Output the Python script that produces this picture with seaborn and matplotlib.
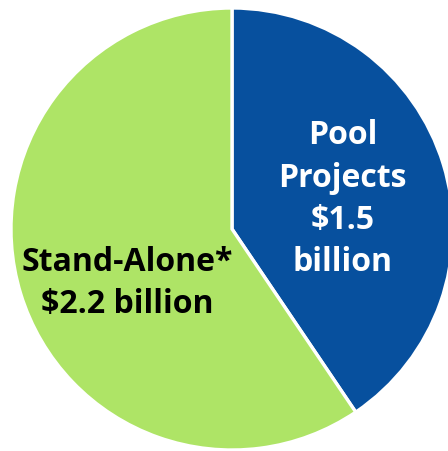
import matplotlib
matplotlib.use("Agg")
import matplotlib.pyplot as plt
import seaborn as sns

# funding split (billions)
segments = ["Pool Projects", "Stand-Alone*"]
amounts = [1.5, 2.2]
labels = ["Pool\nProjects\n$1.5\nbillion", "Stand-Alone*\n$2.2 billion"]
colors = ["#07509E", "#AEE466"]
text_colors = ["white", "black"]
label_pos = [(0.50, 0.135), (-0.475, -0.245)]

sns.set_theme(style="white")
plt.rcParams["font.family"] = ["Open Sans", "DejaVu Sans"]

fig = plt.figure(figsize=(4.48, 4.51), dpi=100)
ax = fig.add_axes([0, 0, 1, 1])

ax.pie(
    amounts,
    colors=colors,
    startangle=90,
    counterclock=False,
    radius=1,
    wedgeprops=dict(edgecolor="white", linewidth=2.4),
)

for lab, (x, y), c in zip(labels, label_pos, text_colors):
    ax.text(x, y, lab, ha="center", va="center", color=c,
            fontsize=23, fontweight="bold", linespacing=1.37)

r_px = 221
ax.set_xlim(-232 / r_px, (448 - 232) / r_px)
ax.set_ylim(-(451 - 229) / r_px, 229 / r_px)
ax.set_aspect("equal")
ax.axis("off")

fig.savefig("out.png", dpi=100)
